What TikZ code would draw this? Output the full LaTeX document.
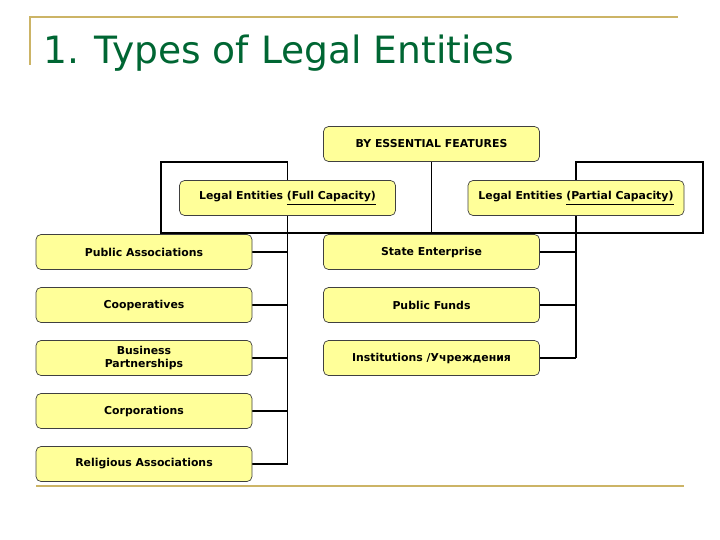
\documentclass[tikz,border=0pt]{standalone}
\usepackage{fontspec}
\setmainfont{DejaVu Sans}
\usetikzlibrary{backgrounds}
\definecolor{boxfill}{RGB}{255,255,153}
\definecolor{titlegreen}{RGB}{0,102,51}
\definecolor{rulegold}{RGB}{204,180,102}
\tikzset{
  kind/.style={draw=black!75,line width=0.7pt,fill=boxfill,rounded corners=5pt,
    minimum width=216pt,minimum height=35pt,inner sep=2pt,align=center,
    font=\fontsize{10.9}{13}\selectfont\bfseries},
  link/.style={line width=1.6pt},
  rule/.style={rulegold,line width=2pt},
}
\begin{document}
\begin{tikzpicture}[x=1pt,y=-1pt]
  \useasboundingbox (0,0) rectangle (720,540);
  \draw[rule] (30,65) -- (30,17.5) -- (678,17.5);
  \draw[rule] (36,486) -- (684,486);
  \node[anchor=base west,inner sep=0,text=titlegreen,font=\fontsize{37.6}{40}\selectfont] (title) at (43,63.5) {1. Types of Legal Entities};

  \node[kind] (feat) at (431.5,144) {BY ESSENTIAL FEATURES};
  \node[kind] (full) at (287.5,198) {Legal Entities \underline{(Full Capacity)}};
  \node[kind] (part) at (576,198) {Legal Entities \underline{(Partial Capacity)}};
  \node[kind] (pubassoc) at (144,252) {Public Associations};
  \node[kind] (coop) at (144,305) {Cooperatives};
  \node[kind] (busin) at (144,358) {Business\\Partnerships};
  \node[kind] (corp) at (144,411) {Corporations};
  \node[kind] (relig) at (144,464) {Religious Associations};
  \node[kind] (stent) at (431.5,252) {State Enterprise};
  \node[kind] (pubfund) at (431.5,305) {Public Funds};
  \node[kind] (inst) at (431.5,358) {Institutions /Учреждения};

  \coordinate (lfoot) at (161,233);
  \coordinate (lhead) at (161,162);
  \coordinate (rfoot) at (703,233);
  \coordinate (rhead) at (703,162);

  \begin{scope}[on background layer]
    \draw[link] (feat.south) |- (lfoot) -- (lhead) -| (full.north);
    \draw[link] (feat.south) |- (rfoot) -- (rhead) -| (part.north);
    \draw[link] (full.north) -- (full.south) -- (full.south |- relig.east);
    \draw[link] (part.north) -- (part.south) -- (part.south |- inst.east);
    \foreach \n in {pubassoc,coop,busin,corp,relig}
      \draw[link] (\n.east) -- (\n.east -| full.south);
    \foreach \n in {stent,pubfund,inst}
      \draw[link] (\n.east) -- (\n.east -| part.south);
  \end{scope}
\end{tikzpicture}
\end{document}
